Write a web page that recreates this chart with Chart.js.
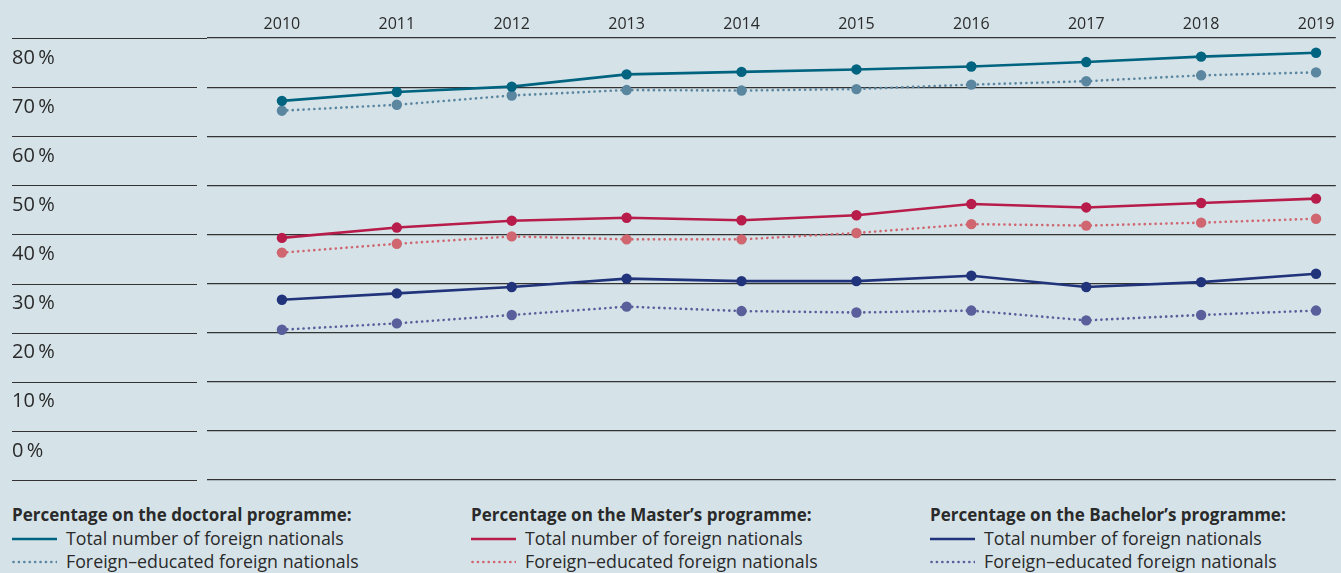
<!DOCTYPE html>
<html>
<head>
<meta charset="utf-8">
<title>Foreign nationals by programme</title>
<script src="https://cdn.jsdelivr.net/npm/chart.js@4.4.0/dist/chart.umd.min.js"></script>
<style>
    html, body { margin: 0; padding: 0; background: #d5e3e9; }
    body {
        width: 1341px; height: 573px; overflow: hidden; position: relative;
        font-family: "Open Sans", sans-serif; color: #2a2a2a;
    }
    #chartBox { position: absolute; left: 0; top: 0; }
    .legend { position: absolute; top: 503px; left: 0; width: 1341px; }
    .col { position: absolute; top: 0; }
    .col h4 { margin: 0; font-size: 17px; font-weight: 700; line-height: 24px; white-space: nowrap; }
    .row { display: flex; align-items: center; font-size: 17.8px; line-height: 23px; white-space: nowrap; }
    .row svg { margin-right: 9px; flex: none; }
</style>
</head>
<body>
<canvas id="chartBox" width="1341" height="495"></canvas>
<div class="legend" id="legend"></div>

<script>
// Values (share of foreign nationals, %)
const years = [2010, 2011, 2012, 2013, 2014, 2015, 2016, 2017, 2018, 2019];

const doctoralTotal    = [67.2, 69.0, 70.1, 72.6, 73.1, 73.6, 74.2, 75.1, 76.2, 77.0];
const doctoralEducated = [65.2, 66.4, 68.3, 69.4, 69.3, 69.6, 70.5, 71.2, 72.4, 73.0];

const masterTotal      = [39.3, 41.4, 42.8, 43.4, 42.9, 43.9, 46.2, 45.5, 46.4, 47.3];
const masterEducated   = [36.3, 38.1, 39.6, 39.0, 39.0, 40.3, 42.1, 41.8, 42.4, 43.2];

const bachelorTotal    = [26.7, 28.0, 29.3, 31.0, 30.5, 30.5, 31.6, 29.3, 30.3, 32.0];
const bachelorEducated = [20.6, 21.9, 23.6, 25.3, 24.4, 24.1, 24.5, 22.5, 23.6, 24.5];

const programmes = ['doctoral', 'Master\u2019s', 'Bachelor\u2019s'];
const seriesNames = ['Total number of foreign nationals', 'Foreign\u2013educated foreign nationals'];

const colors = {
    doctoral:  ['#00637f', '#5b86a0'],
    master:    ['#b71c4a', '#cf6670'],
    bachelor:  ['#21337a', '#585f9b']
};
const gridColor = '#333333';
const textColor = '#2a2a2a';
const fontFamily = '"Open Sans", sans-serif';

// Build one line dataset
function makeSeries(label, values, color, dotted) {
    return {
        label: label,
        data: values.map((v, i) => ({ x: years[i], y: v })),
        borderColor: color,
        backgroundColor: color,
        pointBackgroundColor: color,
        pointBorderWidth: 0,
        pointRadius: 5.2,
        borderWidth: 2.6,
        borderDash: dotted ? [0.1, 5.3] : [],
        borderCapStyle: dotted ? 'round' : 'butt',
        tension: 0
    };
}

const datasets = [
    makeSeries('Doctoral total', doctoralTotal, colors.doctoral[0], false),
    makeSeries('Master total', masterTotal, colors.master[0], false),
    makeSeries('Bachelor total', bachelorTotal, colors.bachelor[0], false),
    makeSeries('Doctoral foreign-educated', doctoralEducated, colors.doctoral[1], true),
    makeSeries('Master foreign-educated', masterEducated, colors.master[1], true),
    makeSeries('Bachelor foreign-educated', bachelorEducated, colors.bachelor[1], true)
];

// Short rules under the y labels, left of the plot area
const leftRules = {
    id: 'leftRules',
    afterDraw(chart) {
        const y = chart.scales.y;
        const ctx = chart.ctx;
        ctx.save();
        ctx.strokeStyle = gridColor;
        ctx.lineWidth = 1.2;
        y.ticks.forEach(t => {
            const py = Math.round(y.getPixelForValue(t.value)) + 0.5;
            ctx.beginPath();
            ctx.moveTo(12, py);
            ctx.lineTo(t.value === 80 ? chart.chartArea.left : 197, py);
            ctx.stroke();
        });
        ctx.restore();
    }
};

new Chart(document.getElementById('chartBox'), {
    type: 'line',
    data: { datasets: datasets },
    options: {
        responsive: false,
        animation: false,
        layout: { padding: { left: 12, top: 0, right: 0, bottom: 12 } },
        plugins: {
            legend: { display: false },
            tooltip: { enabled: false }
        },
        scales: {
            x: {
                type: 'linear',
                position: 'top',
                min: 2009.348,
                max: 2019.172,
                afterBuildTicks: s => { s.ticks = years.map(v => ({ value: v })); },
                afterFit: s => { s.height = 38; },
                grid: { display: false, drawTicks: false },
                border: { display: false },
                ticks: {
                    color: textColor,
                    font: { family: fontFamily, size: 16 },
                    padding: 4,
                    maxRotation: 0,
                    autoSkip: false,
                    callback: v => String(v)
                }
            },
            y: {
                min: -10,
                max: 80,
                afterFit: s => { s.width = 195; },
                grid: { color: gridColor, lineWidth: 1.2, drawTicks: false },
                border: { display: false },
                ticks: {
                    stepSize: 10,
                    crossAlign: 'far',
                    labelOffset: 20,
                    color: textColor,
                    font: { family: fontFamily, size: 20 },
                    callback: v => v < 0 ? '' : v + '\u2009%'
                }
            }
        }
    },
    plugins: [leftRules]
});

// Legend: three columns, one per programme
function sample(color, dotted) {
    const dash = dotted ? 'stroke-dasharray="0.1 5.3" stroke-linecap="round"' : '';
    return `<svg width="45" height="10"><line x1="${dotted ? 1.5 : 0}" y1="5" x2="45" y2="5" stroke="${color}" stroke-width="2.6" ${dash}/></svg>`;
}

const legendX = [12, 471, 930];
const colorKeys = ['doctoral', 'master', 'bachelor'];
const legend = document.getElementById('legend');
programmes.forEach((p, i) => {
    const col = document.createElement('div');
    col.className = 'col';
    col.style.left = legendX[i] + 'px';
    const c = colors[colorKeys[i]];
    col.innerHTML = `
        <h4>Percentage on the ${p} programme:</h4>
        <div class="row">${sample(c[0], false)}<span>${seriesNames[0]}</span></div>
        <div class="row">${sample(c[1], true)}<span>${seriesNames[1]}</span></div>
    `;
    legend.appendChild(col);
});
</script>
</body>
</html>
